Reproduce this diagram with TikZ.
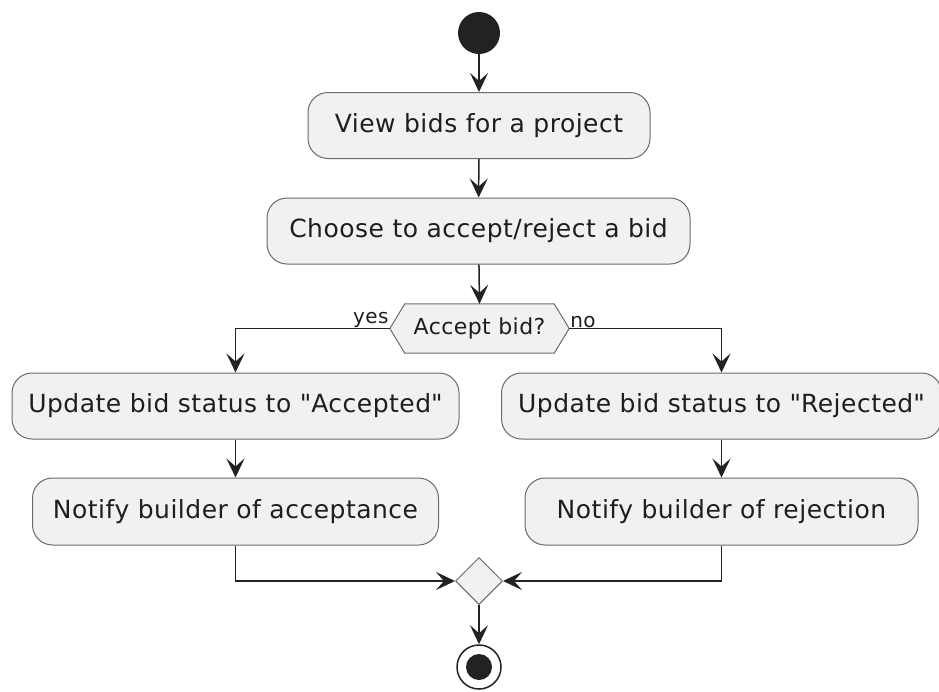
\documentclass[tikz,border=0pt]{standalone}
\usepackage{fontspec}
\setmainfont{DejaVu Sans}[LetterSpace=2]
\usetikzlibrary{arrows.meta,shapes.geometric}
\definecolor{boxfill}{HTML}{F1F1F1}
\definecolor{boxline}{HTML}{6A6A6A}
\definecolor{linecol}{HTML}{222222}
\definecolor{txtcol}{HTML}{1E1E1E}
\tikzset{
  actbox/.style={draw=boxline, line width=1pt, fill=boxfill, rounded corners=20pt,
    minimum height=66pt, inner xsep=0pt, text=txtcol,
    font=\fontsize{25}{30}\selectfont},
  flow/.style={draw=linecol, line width=1.5pt,
    -{Stealth[length=19pt, width=18pt, inset=8pt]}},
  lbl/.style={inner sep=1pt, text=txtcol, font=\fontsize{20}{24}\selectfont}
}
\begin{document}
\begin{tikzpicture}[x=1pt,y=-1pt]
\useasboundingbox (0,0) rectangle (939,691);
\node[circle, fill=linecol, minimum size=42pt, inner sep=0pt] (start) at (479,33) {};
\node[actbox, minimum width=342pt] (view) at (479,125.5) {View bids for a project};
\node[actbox, minimum width=423pt] (choose) at (478.5,231) {Choose to accept/reject a bid};
\coordinate (dec) at (479.5,328.5);
\fill[boxfill] ([xshift=-89.5pt]dec) -- ([xshift=-74.5pt,yshift=-24.5pt]dec) -- ([xshift=74.5pt,yshift=-24.5pt]dec)
  -- ([xshift=89.5pt]dec) -- ([xshift=74.5pt,yshift=24.5pt]dec) -- ([xshift=-74.5pt,yshift=24.5pt]dec) -- cycle;
\node[minimum width=179pt, minimum height=49pt, inner sep=0pt, text=txtcol,
      font=\fontsize{22}{26}\selectfont] (decn) at (dec) {Accept bid?};
\draw[boxline, line width=1pt] (decn.west) -- ([xshift=15pt]decn.north west) -- ([xshift=-15pt]decn.north east)
  -- (decn.east) -- ([xshift=-15pt]decn.south east) -- ([xshift=15pt]decn.south west) -- cycle;
\node[actbox, minimum width=447pt] (acc) at (235.5,406) {Update bid status to \textquotedbl Accepted\textquotedbl};
\node[actbox, minimum width=406pt, minimum height=67pt] (accn) at (235.5,511.5) {Notify builder of acceptance};
\node[actbox, minimum width=440pt] (rej) at (721.5,406) {Update bid status to \textquotedbl Rejected\textquotedbl};
\node[actbox, minimum width=393pt, minimum height=67pt] (rejn) at (721.5,511.5) {Notify builder of rejection};
\node[diamond, aspect=1, draw=boxline, line width=1pt, fill=boxfill, minimum width=47pt,
      minimum height=47pt, inner sep=0pt] (merge) at (479,581) {};
\node[circle, draw=linecol, line width=1.5pt, fill=white, minimum size=44pt, inner sep=0pt] (end) at (479,667) {};
\node[circle, fill=linecol, minimum size=26pt, inner sep=0pt] (endin) at (end) {};
\draw[flow] (start) -- (view);
\draw[flow] (view) -- (choose);
\draw[flow] (choose) -- (decn.north);
\draw[flow] (decn.west) -| (acc.north);
\draw[flow] (decn.east) -| (rej.north);
\node[lbl, anchor=south east] (yes) at (decn.west) {yes};
\node[lbl, anchor=south west] (no) at (decn.east) {no};
\draw[flow] (acc) -- (accn);
\draw[flow] (rej) -- (rejn);
\draw[flow] (accn.south) |- (merge.west);
\draw[flow] (rejn.south) |- (merge.east);
\draw[flow] (merge.south) -- (end.north);
\end{tikzpicture}
\end{document}
